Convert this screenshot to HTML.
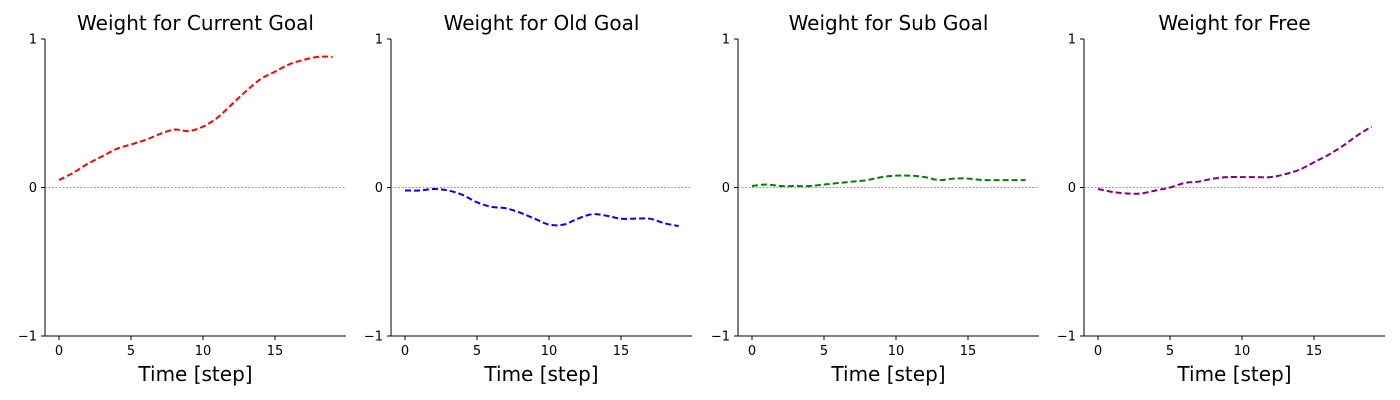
<!DOCTYPE html>
<html><head><meta charset="utf-8"><style>
body{margin:0;background:#fff;}
svg{display:block;font-family:"DejaVu Sans","Liberation Sans",sans-serif;}
</style></head><body>
<svg id="chart" width="1400" height="400" viewBox="0 0 1400 400"></svg>
<script>
const titles = ["Weight for Current Goal","Weight for Old Goal","Weight for Sub Goal","Weight for Free"];
const colors = ["#ff0000","#0000ff","#008000","#800080"];
const steps = [0,1,2,3,4,5,6,7,8,9,10,11,12,13,14,15,16,17,18,19];
const currentGoal = [0.05,0.10,0.16,0.21,0.26,0.29,0.32,0.36,0.39,0.38,0.41,0.47,0.56,0.65,0.73,0.78,0.83,0.86,0.88,0.88];
const oldGoal = [-0.02,-0.02,-0.01,-0.02,-0.05,-0.10,-0.13,-0.14,-0.17,-0.21,-0.25,-0.25,-0.21,-0.18,-0.19,-0.21,-0.21,-0.21,-0.24,-0.26];
const subGoal = [0.01,0.02,0.01,0.01,0.01,0.02,0.03,0.04,0.05,0.07,0.08,0.08,0.07,0.05,0.06,0.06,0.05,0.05,0.05,0.05];
const freeW = [-0.01,-0.03,-0.04,-0.04,-0.02,0.00,0.03,0.04,0.06,0.07,0.07,0.07,0.07,0.09,0.12,0.17,0.22,0.28,0.35,0.41];
const xTicks = [0,5,10,15];
const yTicks = [-1,0,1];
const series = [currentGoal, oldGoal, subGoal, freeW];
const names = ["current-goal","old-goal","sub-goal","free"];

const NS = "http://www.w3.org/2000/svg";
const svg = document.getElementById("chart");
function mk(tag, attrs, parent){const e=document.createElementNS(NS,tag);for(const k in attrs)e.setAttribute(k,attrs[k]);(parent||svg).appendChild(e);return e;}

const axLefts = [45,391,738,1084];
const axW = 301, axTop = 39, axBottom = 336;
for(let p=0;p<4;p++){
  const L = axLefts[p];
  const xs = v => L + 14 + v*14.4;
  const ys = v => 187.5 - v*148.5;
  const g = mk("g",{});
  
  
  const t = mk("text",{x:L+axW/2,y:30,"text-anchor":"middle","font-size":20,fill:"#000"},g);
  t.textContent = titles[p];
  
  
  const ax = mk("line",{x1:L,y1:axTop,x2:L,y2:axBottom,stroke:"#000","stroke-width":1},g);
  
  
  const bx = mk("line",{x1:L,y1:axBottom,x2:L+axW,y2:axBottom,stroke:"#000","stroke-width":1},g);
  
  
  const zl = mk("line",{x1:L,y1:ys(0),x2:L+axW,y2:ys(0),stroke:"#808080","stroke-width":0.8,"stroke-dasharray":"2,1.5"},g);
  
  
  yTicks.forEach(v=>{
    mk("line",{x1:L-4,y1:ys(v),x2:L,y2:ys(v),stroke:"#000"},g);
    const tt = mk("text",{x:L-8,y:ys(v)+4.5,"text-anchor":"end","font-size":13,fill:"#000"},g);
    tt.textContent = v<0 ? "\u2212"+Math.abs(v) : String(v);
    
    
  });
  xTicks.forEach(v=>{
    mk("line",{x1:xs(v),y1:axBottom,x2:xs(v),y2:axBottom+4,stroke:"#000"},g);
    const tt = mk("text",{x:xs(v),y:axBottom+19,"text-anchor":"middle","font-size":13,fill:"#000"},g);
    tt.textContent = String(v);
    
    
  });
  const xl = mk("text",{x:L+axW/2,y:381,"text-anchor":"middle","font-size":20,fill:"#000"},g);
  xl.textContent = "Time [step]";
  
  
  const pts = steps.map((s,i)=>[xs(s),ys(series[p][i])]);
  let d = "M"+pts[0][0]+","+pts[0][1];
  for(let i=0;i<pts.length-1;i++){
    const p0=pts[Math.max(0,i-1)],p1=pts[i],p2=pts[i+1],p3=pts[Math.min(pts.length-1,i+2)];
    const c1=[p1[0]+(p2[0]-p0[0])/6,p1[1]+(p2[1]-p0[1])/6];
    const c2=[p2[0]-(p3[0]-p1[0])/6,p2[1]-(p3[1]-p1[1])/6];
    d+=` C${c1[0]},${c1[1]} ${c2[0]},${c2[1]} ${p2[0]},${p2[1]}`;
  }
  const line = mk("path",{d:d,fill:"none",stroke:colors[p],"stroke-width":2,"stroke-dasharray":"6,3"},g);
  
  
}
</script>
</body></html>
